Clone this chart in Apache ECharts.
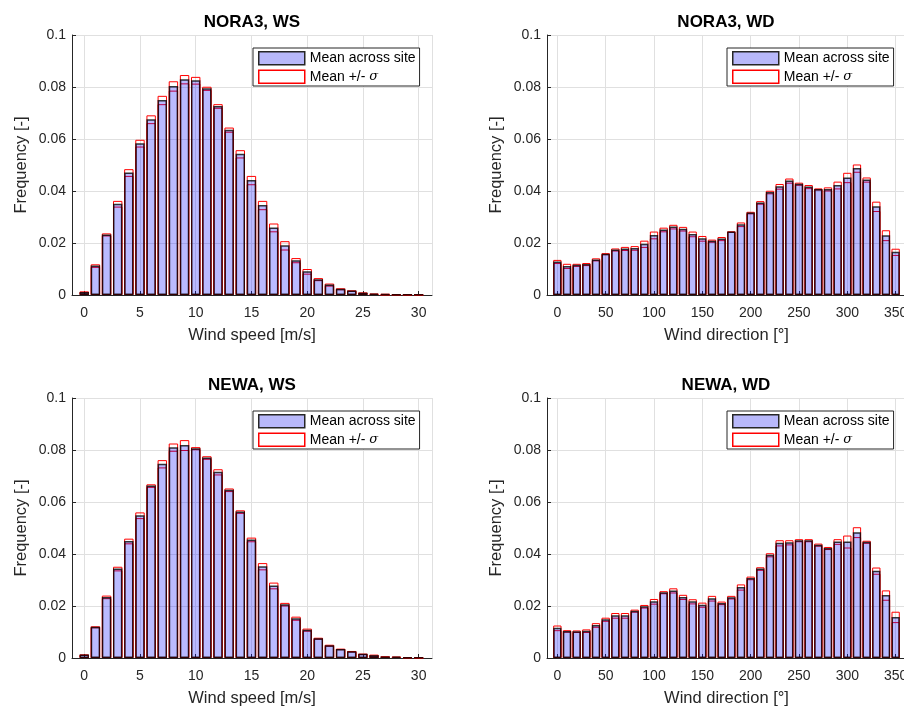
<!DOCTYPE html>
<html>
<head>
<meta charset="utf-8">
<script src="https://cdn.jsdelivr.net/npm/echarts@6/dist/echarts.min.js"></script>
<style>
  html, body { margin: 0; padding: 0; background: #fff; }
  #chart { width: 904px; height: 706px; }
</style>
</head>
<body>
<div id="chart"></div>
<script>
// bin centres
const wsBins = [0,1,2,3,4,5,6,7,8,9,10,11,12,13,14,15,16,17,18,19,20,21,22,23,24,25,26,27,28,29,30];
const wdBins = [0,10,20,30,40,50,60,70,80,90,100,110,120,130,140,150,160,170,180,190,200,210,220,230,240,250,260,270,280,290,300,310,320,330,340,350];

// NORA3, WS
const noraWsMean = [0.0012,0.0113,0.0233,0.0351,0.0471,0.0584,0.0676,0.075,0.0804,0.083,0.0826,0.0795,0.0727,0.0636,0.0543,0.0442,0.0346,0.026,0.0191,0.0134,0.0091,0.0061,0.004,0.0024,0.0017,0.0009,0.0005,0.0003,0.0002,0.0001,0.0001];
const noraWsSigma = [0.0002,0.0005,0.0004,0.0011,0.0013,0.0013,0.0015,0.0016,0.0018,0.0016,0.0013,0.0006,0.0007,0.0008,0.0014,0.0016,0.0016,0.0015,0.0016,0.0008,0.0009,0.0004,0.0004,0.0002,0.0001,0.0001,0.0001,0.0002,0.0001,0,0];

// NORA3, WD
const noraWdMean = [0.0129,0.0112,0.0116,0.0119,0.0137,0.0159,0.0175,0.0179,0.0181,0.0197,0.0231,0.0252,0.0263,0.0255,0.0235,0.0218,0.0209,0.0217,0.0244,0.0272,0.0317,0.0356,0.0396,0.0418,0.044,0.0428,0.0417,0.0408,0.0408,0.0423,0.0452,0.0488,0.0444,0.0341,0.023,0.0166];
const noraWdSigma = [0.0006,0.0008,0.0004,0.0004,0.0004,0.0002,0.0004,0.0006,0.0007,0.0012,0.0013,0.0007,0.0007,0.0007,0.0009,0.0009,0.0004,0.0006,0.0001,0.0007,0.0003,0.0005,0.0005,0.0009,0.0008,0.0004,0.0006,0.0002,0.0006,0.0013,0.0018,0.0014,0.0008,0.0018,0.0019,0.0012];

// NEWA, WS
const newaWsMean = [0.0013,0.012,0.0235,0.0344,0.045,0.0549,0.0663,0.0747,0.0811,0.0819,0.0807,0.0771,0.0716,0.0647,0.0563,0.0456,0.0353,0.0279,0.0207,0.0153,0.0109,0.0076,0.0049,0.0035,0.0026,0.0016,0.0011,0.0006,0.0005,0.0002,0.0001];
const newaWsSigma = [0.0001,0.0002,0.0005,0.0007,0.0009,0.0011,0.0005,0.0014,0.0014,0.0019,0.0004,0.0005,0.001,0.0005,0.0005,0.0007,0.0012,0.0011,0.0005,0.0006,0.0004,0.0002,0.0002,0.0001,0.0001,0.0001,0.0002,0.0001,0.0001,0,0];

// NEWA, WD
const newaWdMean = [0.0116,0.0104,0.0103,0.0105,0.0127,0.0149,0.0164,0.0164,0.0182,0.0199,0.0218,0.0253,0.026,0.0235,0.0218,0.0205,0.023,0.0212,0.0234,0.0273,0.0308,0.0344,0.0397,0.0443,0.0445,0.0453,0.0453,0.0436,0.0423,0.0448,0.0448,0.0484,0.0447,0.0336,0.0242,0.0158];
const newaWdSigma = [0.0009,0.0003,0.0003,0.0005,0.0007,0.0006,0.0009,0.0009,0.0004,0.0005,0.0009,0.0004,0.0008,0.0008,0.0008,0.0008,0.0009,0.0005,0.0005,0.001,0.0005,0.0005,0.0006,0.001,0.0008,0.0004,0.0004,0.0004,0.0004,0.0009,0.0023,0.0019,0.0004,0.0012,0.0018,0.002];

const yTicks = [0, 0.02, 0.04, 0.06, 0.08, 0.1];
const meanName = 'Mean across site';
const sigmaName = 'Mean +/- \u03c3';

const FONT = '"Liberation Sans", Arial, sans-serif';
const TXT = '#262626';

// the right-hand axes run past the edge of the figure, as in the original
const panels = [
  { title: 'NORA3, WS', bins: wsBins, mean: noraWsMean, sigma: noraWsSigma, xName: 'Wind speed [m/s]',
    grid: { left: 72, top: 35, width: 360, height: 260 }, xMin: -1.1, xMax: 31.2, split: 6, barW: 9.4, legend: [253, 48], namePad: 0 },
  { title: 'NORA3, WD', bins: wdBins, mean: noraWdMean, sigma: noraWdSigma, xName: 'Wind direction [\u00b0]',
    grid: { left: 547, top: 35, width: 367, height: 260 }, xMin: -10.7, xMax: 369, split: 7, barW: 8.3, legend: [727, 48], namePad: 8 },
  { title: 'NEWA, WS', bins: wsBins, mean: newaWsMean, sigma: newaWsSigma, xName: 'Wind speed [m/s]',
    grid: { left: 72, top: 398, width: 360, height: 260 }, xMin: -1.1, xMax: 31.2, split: 6, barW: 9.4, legend: [253, 411], namePad: 0 },
  { title: 'NEWA, WD', bins: wdBins, mean: newaWdMean, sigma: newaWdSigma, xName: 'Wind direction [\u00b0]',
    grid: { left: 547, top: 398, width: 367, height: 260 }, xMin: -10.7, xMax: 369, split: 7, barW: 8.3, legend: [727, 411], namePad: 8 }
];
const titleX = [252, 726, 252, 726];

const chart = echarts.init(document.getElementById('chart'), null, { renderer: 'canvas' });

const grids = [], xAxes = [], yAxes = [], series = [], legends = [], texts = [];

panels.forEach((p, i) => {
  grids.push(Object.assign({ outerBoundsMode: 'none', containLabel: false }, p.grid));
  xAxes.push({
    type: 'value', gridIndex: i, min: p.xMin, max: p.xMax, splitNumber: p.split,
    name: p.xName, nameLocation: 'middle', nameGap: 32,
    nameTextStyle: { fontSize: 16.5, color: TXT, fontFamily: FONT, padding: [0, p.namePad, 0, 0] },
    axisLine: { show: true, onZero: false, lineStyle: { color: TXT, width: 1 } },
    axisTick: { show: true, inside: true, length: 4, lineStyle: { color: TXT } },
    axisLabel: { fontSize: 14, color: TXT, fontFamily: FONT, margin: 11, showMinLabel: false, showMaxLabel: false },
    splitLine: { show: true, lineStyle: { color: '#e0e0e0' } }
  });
  yAxes.push({
    type: 'value', gridIndex: i, min: 0, max: 0.1, interval: 0.02,
    name: 'Frequency [-]', nameLocation: 'middle', nameGap: 42,
    nameTextStyle: { fontSize: 16.5, color: TXT, fontFamily: FONT },
    axisLine: { show: true, onZero: false, lineStyle: { color: TXT, width: 1 } },
    axisTick: { show: true, inside: true, length: 4, lineStyle: { color: TXT } },
    axisLabel: { fontSize: 14, color: TXT, fontFamily: FONT, margin: 6,
      formatter: v => String(yTicks.find(t => Math.abs(t - v) < 1e-9) ?? v) },
    splitLine: { show: true, lineStyle: { color: '#e0e0e0' } }
  });

  const upper = p.bins.map((b, k) => [b, p.mean[k] + p.sigma[k]]);
  const lower = p.bins.map((b, k) => [b, p.mean[k] - p.sigma[k]]);
  const mean = p.bins.map((b, k) => [b, p.mean[k]]);

  const redStyle = { color: 'rgba(255,255,255,0)', borderColor: '#ff0000', borderWidth: 1 };
  series.push({ name: sigmaName, type: 'bar', xAxisIndex: i, yAxisIndex: i, data: upper,
    barWidth: p.barW, barGap: '-100%', itemStyle: redStyle, silent: true, animation: false });
  series.push({ name: sigmaName, type: 'bar', xAxisIndex: i, yAxisIndex: i, data: lower,
    barWidth: p.barW, barGap: '-100%', itemStyle: redStyle, silent: true, animation: false });
  series.push({ name: meanName, type: 'bar', xAxisIndex: i, yAxisIndex: i, data: mean,
    barWidth: p.barW, barGap: '-100%',
    itemStyle: { color: 'rgba(0,0,255,0.27)', borderColor: 'rgba(0,0,0,0.78)', borderWidth: 1.5 },
    silent: true, animation: false });

  legends.push({
    orient: 'vertical', left: p.legend[0], top: p.legend[1],
    backgroundColor: '#fff', borderColor: '#262626', borderWidth: 1, borderRadius: 0,
    padding: [3, 4, 2, 5], itemGap: 4, itemWidth: 46, itemHeight: 13, selectedMode: false,
    textStyle: { fontSize: 14, color: '#000', fontFamily: FONT,
      rich: { s: { fontStyle: 'italic', fontFamily: '"DejaVu Serif", serif', fontSize: 13, color: '#000' } } },
    formatter: name => name === sigmaName ? 'Mean +/- {s|\u03c3}' : name,
    data: [
      { name: meanName, icon: 'rect', itemStyle: { color: 'rgb(184,184,250)', borderColor: '#262626', borderWidth: 1.5 } },
      { name: sigmaName, icon: 'rect', itemStyle: { color: '#ffffff', borderColor: '#ff0000', borderWidth: 1.5 } }
    ]
  });

  texts.push({
    type: 'text', x: titleX[i], y: p.grid.top - 13,
    style: { text: p.title, font: 'bold 17px ' + FONT, fill: '#000', textAlign: 'center', textVerticalAlign: 'middle' }
  });
});

chart.setOption({
  animation: false,
  backgroundColor: '#fff',
  grid: grids,
  xAxis: xAxes,
  yAxis: yAxes,
  legend: legends,
  series: series,
  graphic: texts
});
</script>
</body>
</html>
